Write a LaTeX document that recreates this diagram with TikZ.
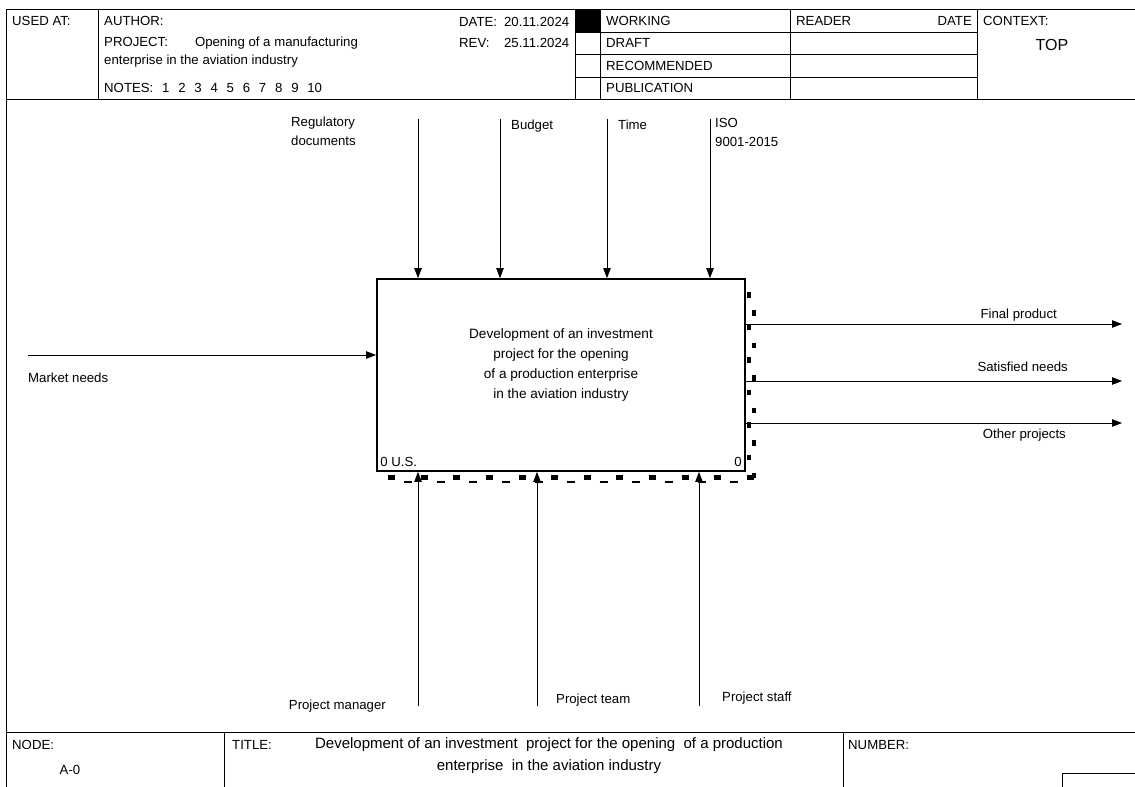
\documentclass[tikz,border=0pt]{standalone}
\usepackage{fontspec}
\setmainfont{Liberation Sans}
\usetikzlibrary{positioning,arrows.meta,calc}
\newcommand{\nsp}{\hspace{8.8pt}}

\begin{document}
\begin{tikzpicture}[
        x=1pt, y=-1pt,
        txt/.style={inner sep=0pt, font=\fontsize{13.2}{19}\selectfont},
        lbl/.style={txt, anchor=west},
        rule/.style={line width=0.8pt},
        func/.style={draw, line width=1.8pt, minimum width=368pt,
            minimum height=192pt, inner sep=0pt},
        boxtxt/.style={txt, align=center, font=\fontsize{13.6}{20}\selectfont},
        titletxt/.style={txt, align=center, font=\fontsize{15}{22}\selectfont},
        flow/.style={-{Triangle[length=10pt,width=7.5pt]}, line width=0.8pt}
    ]
        \useasboundingbox (0,0) rectangle (1135,787);
        % form frame
        \draw[rule] (1135,9) -- (6,9) -- (6,787);
        \draw[rule] (6,99) -- (1135,99);
        \draw[rule] (6,732) -- (1135,732);
        \foreach \x in {98,575,600,790,977}
            \draw[rule] (\x,9) -- (\x,99);
        \foreach \y in {32,54,77}
            \draw[rule] (575,\y) -- (977,\y);
        \fill (575,9) rectangle (600,32);
        \foreach \x in {224,843}
            \draw[rule] (\x,732) -- (\x,787);
        \draw[rule] (1135,773) -- (1062,773) -- (1062,787);

        % header texts
        \node[lbl] (usedat) at (12,21) {USED AT:};
        \node[lbl] (author) at (104,21) {AUTHOR:};
        \node[lbl] (project) at (104,43) {PROJECT:\hspace{27pt}Opening of a manufacturing};
        \node[lbl] (project2) at (104,61) {enterprise in the aviation industry};
        \node[lbl] (notes) at (104,88) {NOTES:\nsp1\nsp2\nsp3\nsp4\nsp5\nsp6\nsp7\nsp8\nsp9\nsp10};
        \node[lbl] (date) at (459,22) {\makebox[110pt][l]{DATE:\hfill 20.11.2024}};
        \node[lbl] (rev) at (459,43) {\makebox[110pt][l]{REV:\hfill 25.11.2024}};
        \node[lbl] (working) at (606,21) {WORKING};
        \node[lbl] (draft) at (606,43) {DRAFT};
        \node[lbl] (recom) at (606,66) {RECOMMENDED};
        \node[lbl] (publ) at (606,88) {PUBLICATION};
        \node[lbl] (reader) at (796,21) {READER};
        \node[txt, anchor=east] (rdate) at (972,21) {DATE};
        \node[lbl] (context) at (983,21) {CONTEXT:};
        \node[txt, font=\fontsize{16}{18}\selectfont] (top) at (1052,45) {TOP};

        % function box
        \node[func] (func) at (561,375) {};
        \node[boxtxt] (functxt) at ([yshift=10pt]func.center)
            {Development of an investment\\project for the opening\\of a production enterprise\\in the aviation industry};
        \node[txt, above right=5pt and 4pt of func.south west] (fnum) {0 U.S.};
        \node[txt, above left=5pt and 4pt of func.south east] (fnode) {0};

        % tunnel marks
        \draw[line width=4pt, dash pattern=on 5.5pt off 27pt]
            ($(func.north east)+(3,14)$) -- ($(func.south east)+(3,7)$);
        \draw[line width=4pt, dash pattern=on 5.5pt off 27pt]
            ($(func.north east)+(8,32)$) -- ($(func.south east)+(8,10)$);
        \draw[line width=5pt, dash pattern=on 7pt off 25.6pt]
            ($(func.south west)+(12,6)$) -- ($(func.south east)+(12,6)$);
        \draw[line width=2pt, dash pattern=on 8pt off 24.6pt]
            ($(func.south west)+(28,10)$) -- ($(func.south east)+(12,10)$);

        % controls
        \coordinate (regsrc) at (418,119);
        \coordinate (budsrc) at (500,119);
        \coordinate (timsrc) at (607,119);
        \coordinate (isosrc) at (710,119);
        \foreach \n in {regsrc,budsrc,timsrc,isosrc}
            \draw[flow] (\n) -- (\n |- func.north);
        \node[txt, align=left, anchor=north west] (reglbl) at (291,117) {Regulatory\\documents};
        \node[txt, below right=1pt and 11pt of budsrc] (budlbl) {Budget};
        \node[txt, below right=1pt and 11pt of timsrc] (timlbl) {Time};
        \node[txt, align=left, below right=-1pt and 5pt of isosrc] (isolbl) {ISO\\9001-2015};

        % input
        \coordinate (mktsrc) at (28,355);
        \draw[flow] (mktsrc) -- (mktsrc -| func.west);
        \node[txt, below right=18pt and 0pt of mktsrc] (mktlbl) {Market needs};

        % outputs
        \coordinate (fpsink) at (1122,324);
        \coordinate (snsink) at (1122,381);
        \coordinate (opsink) at (1122,423);
        \foreach \n in {fpsink,snsink,opsink}
            \draw[flow] (\n -| func.east) -- (\n);
        \node[txt, above left=3pt and 65pt of fpsink] (fplbl) {Final product};
        \node[txt, above left=9.5pt and 54pt of snsink] (snlbl) {Satisfied needs};
        \node[txt, below left=6pt and 56pt of opsink] (oplbl) {Other projects};

        % mechanisms
        \coordinate (pmsrc) at (418,706);
        \coordinate (ptsrc) at (537,706);
        \coordinate (pssrc) at (699,706);
        \foreach \n in {pmsrc,ptsrc,pssrc}
            \draw[flow] (\n) -- (\n |- func.south);
        \node[txt, left=32pt of pmsrc] (pmlbl) {Project manager};
        \node[txt, above right=0pt and 19pt of ptsrc] (ptlbl) {Project team};
        \node[txt, above right=2pt and 23pt of pssrc] (pslbl) {Project staff};

        % title block
        \node[lbl] (nodelbl) at (12,745) {NODE:};
        \node[txt] (nodeid) at (70,770) {A-0};
        \node[lbl] (titlelbl) at (232,745) {TITLE:};
        \node[titletxt] (title) at (549,756)
            {Development of an investment\ \ project for the opening\ \ of a production\\enterprise\ \ in the aviation industry};
        \node[lbl] (numlbl) at (848,745) {NUMBER:};
\end{tikzpicture}
\end{document}
